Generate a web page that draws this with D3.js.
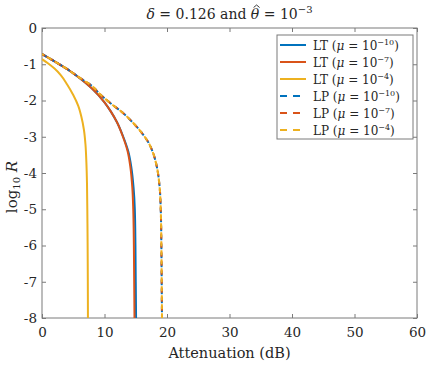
<!DOCTYPE html>
<html>
<head>
<meta charset="utf-8">
<script src="https://cdn.jsdelivr.net/npm/d3@7"></script>
<style>
  body { margin: 0; background: #fff; }
  svg text { font-family: "DejaVu Serif", "Liberation Serif", serif; fill: #262626; }
</style>
</head>
<body>
<div id="chart"></div>
<script>
// series: attenuation (dB) vs log10 R
const ltBlueX = [0, 2, 4, 6, 8, 10, 11, 12, 13, 13.8, 14.3, 14.65, 14.85, 14.95, 15.0, 15.05];
const ltBlueY = [-0.72, -0.92, -1.13, -1.38, -1.67, -2.05, -2.3, -2.6, -3.0, -3.4, -3.85, -4.4, -5, -6, -7, -8];
const ltRedX = [0, 2, 4, 6, 8, 10, 11, 12, 12.95, 13.7, 14.15, 14.45, 14.6, 14.7, 14.75, 14.8];
const ltRedY = [-0.72, -0.92, -1.13, -1.38, -1.67, -2.05, -2.3, -2.6, -3.0, -3.4, -3.85, -4.4, -5, -6, -7, -8];
const ltYellowX = [0, 1, 2, 3, 4, 5, 5.8, 6.3, 6.7, 6.95, 7.1, 7.2, 7.25, 7.3, 7.33, 7.35];
const ltYellowY = [-0.86, -0.98, -1.12, -1.3, -1.55, -1.85, -2.15, -2.45, -2.8, -3.2, -3.7, -4.3, -5, -6, -7, -8];
const lpX = [0, 2, 4, 6, 8, 9.3, 11, 13, 14.6, 16, 17, 17.8, 18.4, 18.8, 19.0, 19.1, 19.15, 19.2];
const lpY = [-0.72, -0.92, -1.13, -1.37, -1.6, -1.83, -2.08, -2.35, -2.62, -2.9, -3.15, -3.46, -3.85, -4.35, -5, -6, -7, -8];

const xTicks = [0, 10, 20, 30, 40, 50, 60];
const yTicks = [0, -1, -2, -3, -4, -5, -6, -7, -8];
const muExp = ["−10", "−7", "−4"];
const colors = ["#0072BD", "#D95319", "#EDB120"];

const W = 428, H = 365;
const box = {l: 42, r: 417, t: 28, b: 318};
const serif = "'DejaVu Serif', 'Liberation Serif', serif";

const svg = d3.select("#chart").append("svg")
    .attr("width", W).attr("height", H)
    .attr("font-family", serif);

const x = d3.scaleLinear().domain([0, 60]).range([box.l, box.r]);
const y = d3.scaleLinear().domain([-8, 0]).range([box.b, box.t]);

const axisColor = "#7a7a7a";

function styleAxis(g, showLabels) {
    g.attr("font-family", serif).attr("font-size", 13.5);
    g.select(".domain").remove();
    g.selectAll(".tick line").attr("stroke", axisColor);
    g.selectAll(".tick text").attr("fill", "#262626");
    if (!showLabels) g.selectAll(".tick text").remove();
}

// ticks (inward)
svg.append("g").attr("transform", `translate(0,${box.b})`)
    .call(d3.axisBottom(x).tickValues(xTicks).tickSize(-4).tickPadding(9).tickFormat(d3.format("d")))
    .call(g => styleAxis(g, true));
svg.append("g").attr("transform", `translate(0,${box.t})`)
    .call(d3.axisTop(x).tickValues(xTicks).tickSize(-4))
    .call(g => styleAxis(g, false));
svg.append("g").attr("transform", `translate(${box.l},0)`)
    .call(d3.axisLeft(y).tickValues(yTicks).tickSize(-4).tickPadding(5).tickFormat(d => d === 0 ? "0" : "-" + Math.abs(d)))
    .call(g => styleAxis(g, true));
svg.append("g").attr("transform", `translate(${box.r},0)`)
    .call(d3.axisRight(y).tickValues(yTicks).tickSize(-4))
    .call(g => styleAxis(g, false));

// frame
svg.append("rect")
    .attr("x", box.l).attr("y", box.t)
    .attr("width", box.r - box.l).attr("height", box.b - box.t)
    .attr("fill", "none").attr("stroke", axisColor).attr("stroke-width", 1);

svg.append("clipPath").attr("id", "clip")
    .append("rect").attr("x", box.l).attr("y", box.t)
    .attr("width", box.r - box.l).attr("height", box.b - box.t);

const line = d3.line().x(d => x(d[0])).y(d => y(d[1])).curve(d3.curveMonotoneY);
function pairs(xs, ys) { return xs.map((v, i) => [v, ys[i]]); }

const plot = svg.append("g").attr("clip-path", "url(#clip)");

const series = [
    {data: pairs(ltBlueX, ltBlueY), color: colors[0], dash: null},
    {data: pairs(ltRedX, ltRedY), color: colors[1], dash: null},
    {data: pairs(ltYellowX, ltYellowY), color: colors[2], dash: null},
    {data: pairs(lpX, lpY), color: colors[0], dash: "5,4", off: 0},
    {data: pairs(lpX, lpY), color: colors[1], dash: "5,4", off: 1.5},
    {data: pairs(lpX, lpY), color: colors[2], dash: "5,4", off: 3},
];

series.forEach(s => {
    plot.append("path")
        .datum(s.data)
        .attr("fill", "none")
        .attr("stroke", s.color)
        .attr("stroke-width", 2)
        .attr("stroke-dasharray", s.dash)
        .attr("stroke-dashoffset", s.off || 0)
        .attr("d", line);
});

// title
const title = svg.append("text")
    .attr("x", (box.l + box.r) / 2).attr("y", 19)
    .attr("text-anchor", "middle")
    .attr("font-size", 14);
title.append("tspan").attr("font-style", "italic").text("δ");
title.append("tspan").text(" = 0.126 and ");
title.append("tspan").attr("font-style", "italic").text("θ");
title.append("tspan").text(" = 10");
title.append("tspan").attr("dy", -6).attr("font-size", 10).text("−3");
// hat over theta, drawn as a small stroke
{
    const node = title.node();
    const idx = "δ = 0.126 and ".length;
    const p0 = node.getStartPositionOfChar(idx);
    const p1 = node.getEndPositionOfChar(idx);
    const cx = (p0.x + p1.x) / 2 + 1.5;
    svg.append("path")
        .attr("d", `M${cx - 3},${7.5} L${cx},${5} L${cx + 3},${7.5}`)
        .attr("fill", "none").attr("stroke", "#262626").attr("stroke-width", 0.9);
}

// axis labels
svg.append("text")
    .attr("x", (box.l + box.r) / 2).attr("y", 358)
    .attr("text-anchor", "middle")
    .attr("font-size", 14.5)
    .text("Attenuation (dB)");

const yl = svg.append("text")
    .attr("transform", `translate(17,${(box.t + box.b) / 2 + 14}) rotate(-90)`)
    .attr("text-anchor", "middle")
    .attr("font-size", 15);
yl.append("tspan").text("log");
yl.append("tspan").attr("dy", 3).attr("font-size", 10).text("10");
yl.append("tspan").attr("dy", -3).text(" ");
yl.append("tspan").attr("font-style", "italic").text("R");

// legend
const lg = svg.append("g");
lg.append("rect")
    .attr("x", 277).attr("y", 35).attr("width", 136).attr("height", 104)
    .attr("fill", "#fff").attr("stroke", axisColor).attr("stroke-width", 1);

const labels = ["LT", "LT", "LT", "LP", "LP", "LP"];
labels.forEach((lab, i) => {
    const cy = 45 + i * 17;
    lg.append("line")
        .attr("x1", 280).attr("x2", 306).attr("y1", cy).attr("y2", cy)
        .attr("stroke", colors[i % 3]).attr("stroke-width", 2)
        .attr("stroke-dasharray", i < 3 ? null : "7,6");
    const t = lg.append("text").attr("x", 313).attr("y", cy + 4.5).attr("font-size", 12);
    t.append("tspan").text(lab + " (");
    t.append("tspan").attr("font-style", "italic").text("μ");
    t.append("tspan").text(" = 10");
    t.append("tspan").attr("dy", -5).attr("font-size", 8).text(muExp[i % 3]);
    t.append("tspan").attr("dy", 5).text(")");
});
</script>
</body>
</html>
